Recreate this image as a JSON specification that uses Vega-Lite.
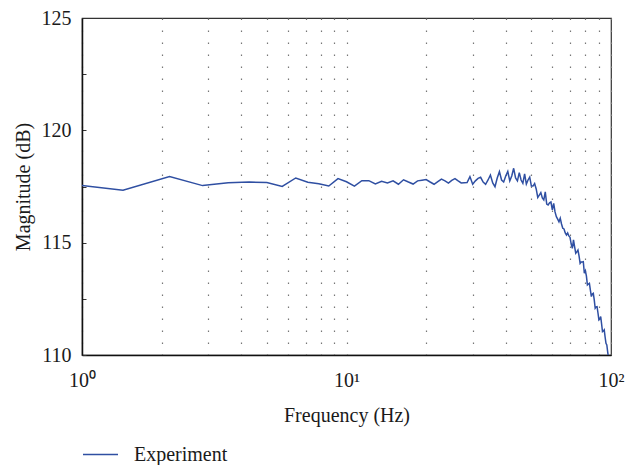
{
  "$schema": "https://vega.github.io/schema/vega-lite/v6.json",
  "width": 529,
  "height": 337,
  "autosize": {"type": "none"},
  "padding": {"left": 82, "top": 18, "right": 28, "bottom": 110},
  "background": "white",
  "config": {
    "font": "Liberation Serif, Times New Roman, serif",
    "view": {"stroke": "#333333", "strokeWidth": 1.2},
    "axis": {"labelFont": "Liberation Serif, Times New Roman, serif", "titleFont": "Liberation Serif, Times New Roman, serif", "labelColor": "#1a1a1a", "titleColor": "#1a1a1a", "titleFontWeight": "normal", "labelFontSize": 20, "titleFontSize": 20},
    "legend": {"labelFont": "Liberation Serif, Times New Roman, serif", "labelFontSize": 20, "labelColor": "#1a1a1a"}
  },
  "data": {
    "values": [
      {"frequency": 0.714, "magnitude": 117.74},
      {"frequency": 1.429, "magnitude": 117.33},
      {"frequency": 2.143, "magnitude": 117.94},
      {"frequency": 2.857, "magnitude": 117.54},
      {"frequency": 3.571, "magnitude": 117.67},
      {"frequency": 4.286, "magnitude": 117.70},
      {"frequency": 5.0, "magnitude": 117.68},
      {"frequency": 5.714, "magnitude": 117.50},
      {"frequency": 6.429, "magnitude": 117.88},
      {"frequency": 7.143, "magnitude": 117.69},
      {"frequency": 7.857, "magnitude": 117.62},
      {"frequency": 8.571, "magnitude": 117.52},
      {"frequency": 9.286, "magnitude": 117.85},
      {"frequency": 10.0, "magnitude": 117.71},
      {"frequency": 10.714, "magnitude": 117.52},
      {"frequency": 11.429, "magnitude": 117.76},
      {"frequency": 12.143, "magnitude": 117.76},
      {"frequency": 12.857, "magnitude": 117.61},
      {"frequency": 13.571, "magnitude": 117.73},
      {"frequency": 14.286, "magnitude": 117.66},
      {"frequency": 15.0, "magnitude": 117.75},
      {"frequency": 15.714, "magnitude": 117.60},
      {"frequency": 16.429, "magnitude": 117.80},
      {"frequency": 17.143, "magnitude": 117.70},
      {"frequency": 17.857, "magnitude": 117.61},
      {"frequency": 18.571, "magnitude": 117.75},
      {"frequency": 19.286, "magnitude": 117.78},
      {"frequency": 20.0, "magnitude": 117.81},
      {"frequency": 20.714, "magnitude": 117.70},
      {"frequency": 21.429, "magnitude": 117.60},
      {"frequency": 22.143, "magnitude": 117.72},
      {"frequency": 22.857, "magnitude": 117.83},
      {"frequency": 23.571, "magnitude": 117.75},
      {"frequency": 24.286, "magnitude": 117.65},
      {"frequency": 25.0, "magnitude": 117.77},
      {"frequency": 25.714, "magnitude": 117.85},
      {"frequency": 26.429, "magnitude": 117.75},
      {"frequency": 27.143, "magnitude": 117.66},
      {"frequency": 27.857, "magnitude": 117.67},
      {"frequency": 28.571, "magnitude": 117.68},
      {"frequency": 29.286, "magnitude": 117.94},
      {"frequency": 30.0, "magnitude": 117.60},
      {"frequency": 30.714, "magnitude": 117.75},
      {"frequency": 31.429, "magnitude": 117.86},
      {"frequency": 32.143, "magnitude": 117.91},
      {"frequency": 32.857, "magnitude": 117.70},
      {"frequency": 33.571, "magnitude": 117.60},
      {"frequency": 34.286, "magnitude": 117.79},
      {"frequency": 35.0, "magnitude": 118.01},
      {"frequency": 35.714, "magnitude": 117.66},
      {"frequency": 36.429, "magnitude": 117.49},
      {"frequency": 37.143, "magnitude": 117.88},
      {"frequency": 37.857, "magnitude": 118.16},
      {"frequency": 38.571, "magnitude": 117.79},
      {"frequency": 39.286, "magnitude": 117.70},
      {"frequency": 40.0, "magnitude": 117.97},
      {"frequency": 40.714, "magnitude": 118.17},
      {"frequency": 41.429, "magnitude": 117.75},
      {"frequency": 42.143, "magnitude": 117.97},
      {"frequency": 42.857, "magnitude": 118.31},
      {"frequency": 43.571, "magnitude": 117.88},
      {"frequency": 44.286, "magnitude": 117.75},
      {"frequency": 45.0, "magnitude": 118.12},
      {"frequency": 45.714, "magnitude": 117.79},
      {"frequency": 46.429, "magnitude": 117.64},
      {"frequency": 47.143, "magnitude": 118.06},
      {"frequency": 47.857, "magnitude": 117.61},
      {"frequency": 48.571, "magnitude": 117.79},
      {"frequency": 49.286, "magnitude": 117.92},
      {"frequency": 50.0, "magnitude": 117.52},
      {"frequency": 50.714, "magnitude": 117.52},
      {"frequency": 51.429, "magnitude": 117.63},
      {"frequency": 52.143, "magnitude": 117.39},
      {"frequency": 52.857, "magnitude": 117.01},
      {"frequency": 53.571, "magnitude": 117.12},
      {"frequency": 54.286, "magnitude": 117.23},
      {"frequency": 55.0, "magnitude": 116.99},
      {"frequency": 55.714, "magnitude": 116.90},
      {"frequency": 56.429, "magnitude": 117.26},
      {"frequency": 57.143, "magnitude": 116.72},
      {"frequency": 57.857, "magnitude": 116.68},
      {"frequency": 58.571, "magnitude": 116.77},
      {"frequency": 59.286, "magnitude": 116.81},
      {"frequency": 60.0, "magnitude": 116.46},
      {"frequency": 60.714, "magnitude": 116.75},
      {"frequency": 61.429, "magnitude": 116.37},
      {"frequency": 62.143, "magnitude": 116.16},
      {"frequency": 62.857, "magnitude": 116.05},
      {"frequency": 63.571, "magnitude": 115.93},
      {"frequency": 64.286, "magnitude": 116.09},
      {"frequency": 65.0, "magnitude": 115.83},
      {"frequency": 65.714, "magnitude": 115.64},
      {"frequency": 66.429, "magnitude": 115.61},
      {"frequency": 67.143, "magnitude": 115.43},
      {"frequency": 67.857, "magnitude": 115.34},
      {"frequency": 68.571, "magnitude": 115.43},
      {"frequency": 69.286, "magnitude": 115.30},
      {"frequency": 70.0, "magnitude": 115.24},
      {"frequency": 70.714, "magnitude": 114.94},
      {"frequency": 71.429, "magnitude": 114.75},
      {"frequency": 72.143, "magnitude": 115.12},
      {"frequency": 72.857, "magnitude": 114.81},
      {"frequency": 73.571, "magnitude": 114.53},
      {"frequency": 74.286, "magnitude": 114.59},
      {"frequency": 75.0, "magnitude": 114.67},
      {"frequency": 75.714, "magnitude": 114.41},
      {"frequency": 76.429, "magnitude": 114.08},
      {"frequency": 77.143, "magnitude": 114.14},
      {"frequency": 77.857, "magnitude": 114.14},
      {"frequency": 78.571, "magnitude": 114.15},
      {"frequency": 79.286, "magnitude": 113.64},
      {"frequency": 80.0, "magnitude": 113.75},
      {"frequency": 80.714, "magnitude": 113.52},
      {"frequency": 81.429, "magnitude": 113.12},
      {"frequency": 82.143, "magnitude": 113.16},
      {"frequency": 82.857, "magnitude": 113.19},
      {"frequency": 83.571, "magnitude": 112.89},
      {"frequency": 84.286, "magnitude": 112.60},
      {"frequency": 85.0, "magnitude": 112.72},
      {"frequency": 85.714, "magnitude": 112.75},
      {"frequency": 86.429, "magnitude": 112.45},
      {"frequency": 87.143, "magnitude": 112.08},
      {"frequency": 87.857, "magnitude": 112.14},
      {"frequency": 88.571, "magnitude": 112.15},
      {"frequency": 89.286, "magnitude": 111.87},
      {"frequency": 90.0, "magnitude": 111.56},
      {"frequency": 90.714, "magnitude": 111.60},
      {"frequency": 91.429, "magnitude": 111.71},
      {"frequency": 92.143, "magnitude": 111.38},
      {"frequency": 92.857, "magnitude": 111.04},
      {"frequency": 93.571, "magnitude": 111.07},
      {"frequency": 94.286, "magnitude": 111.12},
      {"frequency": 95.0, "magnitude": 110.80},
      {"frequency": 95.714, "magnitude": 110.52},
      {"frequency": 96.429, "magnitude": 110.45},
      {"frequency": 97.143, "magnitude": 110.14},
      {"frequency": 97.857, "magnitude": 109.87},
      {"frequency": 98.571, "magnitude": 109.69},
      {"frequency": 99.286, "magnitude": 109.42},
      {"frequency": 100.0, "magnitude": 109.25}
    ]
  },
  "mark": {"type": "line", "clip": true, "strokeWidth": 1.5, "interpolate": "linear"},
  "encoding": {
    "x": {
      "field": "frequency",
      "type": "quantitative",
      "scale": {"type": "log", "domain": [1, 100], "nice": false},
      "axis": {
        "title": "Frequency (Hz)",
        "values": [1, 2, 3, 4, 5, 6, 7, 8, 9, 10, 20, 30, 40, 50, 60, 70, 80, 90, 100],
        "labelExpr": "datum.value == 1 ? '10⁰' : datum.value == 10 ? '10¹' : datum.value == 100 ? '10²' : ''",
        "labelFlush": false,
        "labelOverlap": false,
        "ticks": false,
        "labelPadding": 15,
        "titlePadding": 15,
        "grid": true,
        "gridDash": [1.5, 10.5],
        "gridColor": "#777777",
        "gridWidth": 1.2,
        "domainColor": "#111111",
        "domainWidth": 1.5
      }
    },
    "y": {
      "field": "magnitude",
      "type": "quantitative",
      "scale": {"domain": [110, 125], "nice": false, "zero": false},
      "axis": {
        "title": "Magnitude (dB)",
        "values": [110, 112.5, 115, 117.5, 120, 122.5, 125],
        "labelExpr": "datum.value % 5 == 0 ? datum.label : ''",
        "grid": false,
        "tickSize": -4,
        "tickColor": "#333333",
        "labelPadding": 15,
        "titlePadding": 8,
        "domainColor": "#111111",
        "domainWidth": 1.5
      }
    },
    "color": {
      "datum": "Experiment",
      "type": "nominal",
      "scale": {"range": ["#2f4fa2"]},
      "legend": {
        "title": null,
        "orient": "none",
        "legendX": 0,
        "legendY": 418,
        "symbolType": "stroke",
        "symbolSize": 1225,
        "symbolStrokeWidth": 1.5,
        "labelOffset": 15,
        "padding": 0
      }
    }
  }
}
